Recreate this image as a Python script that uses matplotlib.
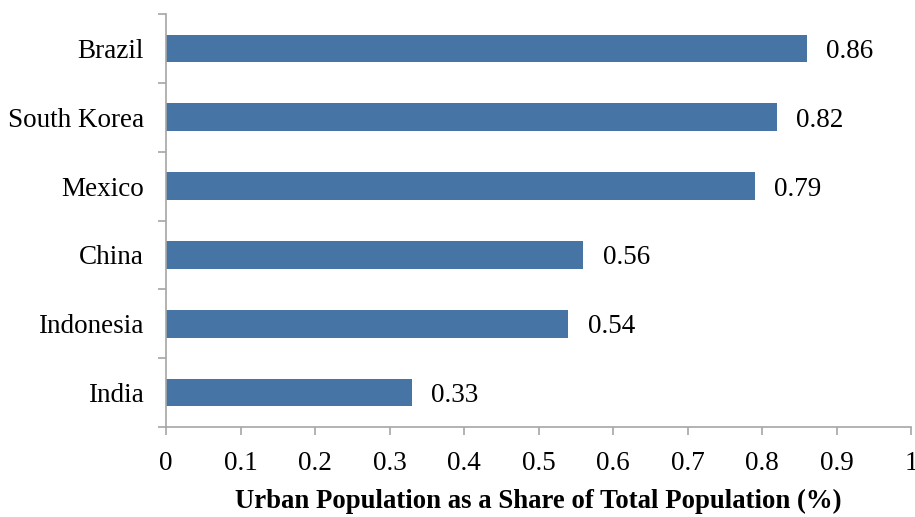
import matplotlib
matplotlib.use("Agg")
import matplotlib.pyplot as plt
import numpy as np

categories = ["India", "Indonesia", "China", "Mexico", "South Korea", "Brazil"]
values = [0.33, 0.54, 0.56, 0.79, 0.82, 0.86]
xticks = [0, 0.1, 0.2, 0.3, 0.4, 0.5, 0.6, 0.7, 0.8, 0.9, 1]
xticklabels = ["0", "0.1", "0.2", "0.3", "0.4", "0.5", "0.6", "0.7", "0.8", "0.9", "1"]
xlabel = "Urban Population as a Share of Total Population (%)"

plt.rcParams['font.family'] = ['Liberation Serif', 'DejaVu Serif']

fig = plt.figure(figsize=(9.15, 5.17), dpi=100)
ax = fig.add_axes([166/915, 1-427/517, (911-166)/915, (427-14)/517])

bar_color = "#4674A4"
spine_color = "#A6A6A6"
y = np.arange(len(categories))
ax.barh(y, values, height=0.4, color=bar_color)

for yi, v in zip(y, values):
    ax.annotate(f"{v:.2f}", xy=(v, yi), xytext=(14, 0), textcoords="offset points",
                va="center_baseline", ha="left", fontsize=19.5)

ax.set_xlim(0, 1)
ax.set_ylim(-0.5, len(categories) - 0.5)

ax.set_xticks(xticks)
ax.set_xticklabels(xticklabels, fontsize=19.5)
ax.set_yticks(y)
ax.set_yticklabels(categories, fontsize=19.5)
ax.set_yticks(np.arange(-0.5, len(categories), 1), minor=True)

ax.tick_params(axis='y', which='major', length=0, pad=16)
ax.tick_params(axis='y', which='minor', length=6, color=spine_color, width=1.2)
ax.tick_params(axis='x', which='major', length=5.5, color=spine_color, width=1.2, pad=12)

for s in ["top", "right"]:
    ax.spines[s].set_visible(False)
for s in ["left", "bottom"]:
    ax.spines[s].set_color(spine_color)
    ax.spines[s].set_linewidth(1.2)

ax.set_xlabel(xlabel, fontsize=19.3, fontweight="bold", labelpad=9)

fig.savefig("out.png", dpi=100)
